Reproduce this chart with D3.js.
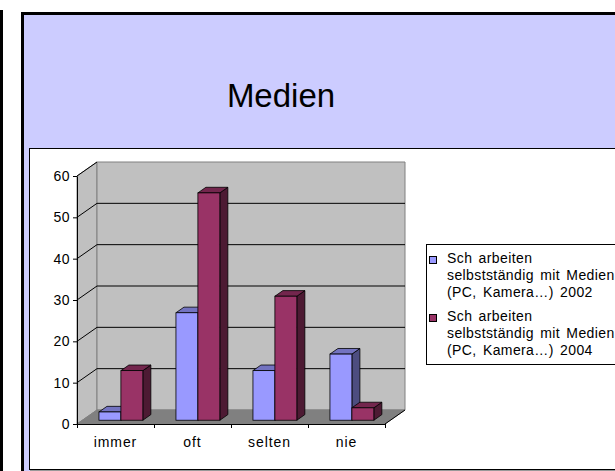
<!DOCTYPE html>
<html>
<head>
<meta charset="utf-8">
<script src="https://cdn.jsdelivr.net/npm/d3@7"></script>
<style>
  body { margin: 0; background: #fff; }
  svg { display: block; font-family: "Liberation Sans", Arial, sans-serif; }
</style>
</head>
<body>
<svg id="chart" width="615" height="471"></svg>
<script>
var categories = ["immer", "oft", "selten", "nie"];
var seriesNames = [
    ["Sch arbeiten", "selbstständig mit Medien", "(PC, Kamera…) 2002"],
    ["Sch arbeiten", "selbstständig mit Medien", "(PC, Kamera…) 2004"]
];
var values2002 = [2, 26, 12, 16];
var values2004 = [12, 55, 30, 3];
var yTicks = [0, 10, 20, 30, 40, 50, 60];

var colors = [
    {front: "#9999ff", top: "#7373c0", side: "#4d4d80"},
    {front: "#993366", top: "#73264d", side: "#4d1a33"}
];

// 3d depth of the plot box
var DX = 20, DY = -14;
var f0 = 0.27, f1 = 0.67;

var svg = d3.select("#chart");

// slide frame
svg.append("rect").attr("x", 0).attr("y", 10).attr("width", 3).attr("height", 470).attr("fill", "#000");
svg.append("rect")
    .attr("x", 22.5).attr("y", 13.5)
    .attr("width", 700).attr("height", 600)
    .attr("fill", "#ccccff").attr("stroke", "#000").attr("stroke-width", 3);

svg.append("text")
    .attr("x", 281).attr("y", 107)
    .attr("text-anchor", "middle")
    .attr("font-size", 33)
    .text("Medien");

// chart area
svg.append("line").attr("x1", 30).attr("x2", 615).attr("y1", 470.5).attr("y2", 470.5).attr("stroke", "#999");
svg.append("rect")
    .attr("x", 29.5).attr("y", 148.5)
    .attr("width", 700).attr("height", 321)
    .attr("fill", "#fff").attr("stroke", "#000");

var x = d3.scaleBand().domain(categories).range([77, 385]);
var bw = x.bandwidth();
var xs = d3.scaleBand().domain([0, 1]).range([bw * 0.215, bw * 0.785]);
var y = d3.scaleLinear().domain([0, 60]).range([424, 176]);

var x0 = x.range()[0], x1 = x.range()[1];
var yTop = y(60), yBot = y(0);

function pts(a) { return a.map(function(p) { return p.join(","); }).join(" "); }

var plot = svg.append("g");

// left wall
plot.append("polygon")
    .attr("points", pts([[x0, yBot], [x0, yTop], [x0 + DX, yTop + DY], [x0 + DX, yBot + DY]]))
    .attr("fill", "#c0c0c0").attr("stroke", "#808080");
// back wall
plot.append("polygon")
    .attr("points", pts([[x0 + DX, yTop + DY], [x1 + DX, yTop + DY], [x1 + DX, yBot + DY], [x0 + DX, yBot + DY]]))
    .attr("fill", "#c0c0c0").attr("stroke", "#808080");
// floor
plot.append("polygon")
    .attr("points", pts([[x0, yBot], [x1, yBot], [x1 + DX, yBot + DY], [x0 + DX, yBot + DY]]))
    .attr("fill", "#808080").attr("stroke", "#808080");

// gridlines
yTicks.filter(function(v) { return v > 0 && v < 60; }).forEach(function(v) {
    plot.append("line")
        .attr("x1", x0).attr("y1", y(v)).attr("x2", x0 + DX).attr("y2", y(v) + DY)
        .attr("stroke", "#000");
    plot.append("line")
        .attr("x1", x0 + DX).attr("y1", y(v) + DY).attr("x2", x1 + DX).attr("y2", y(v) + DY)
        .attr("stroke", "#000");
});
plot.append("line")
    .attr("x1", x0).attr("y1", yTop).attr("x2", x0 + DX).attr("y2", yTop + DY)
    .attr("stroke", "#000");
plot.append("line")
    .attr("x1", x1).attr("y1", yBot).attr("x2", x1 + DX).attr("y2", yBot + DY)
    .attr("stroke", "#000");

// bars
var bars = [];
categories.forEach(function(c, i) {
    [values2002[i], values2004[i]].forEach(function(v, s) {
        bars.push({cat: c, s: s, v: v});
    });
});

var bg = plot.selectAll(".bar").data(bars).enter().append("g").attr("class", "bar");
bg.each(function(d) {
    var g = d3.select(this);
    var bx = x(d.cat) + xs(d.s) + DX * f0;
    var bw2 = xs.bandwidth();
    var by0 = y(0) + DY * f0;
    var by1 = y(d.v) + DY * f0;
    var ddx = DX * (f1 - f0), ddy = DY * (f1 - f0);
    var col = colors[d.s];
    g.append("polygon")
        .attr("points", pts([[bx + bw2, by0], [bx + bw2, by1], [bx + bw2 + ddx, by1 + ddy], [bx + bw2 + ddx, by0 + ddy]]))
        .attr("fill", col.side).attr("stroke", "#000").attr("stroke-width", 0.8);
    g.append("polygon")
        .attr("points", pts([[bx, by1], [bx + bw2, by1], [bx + bw2 + ddx, by1 + ddy], [bx + ddx, by1 + ddy]]))
        .attr("fill", col.top).attr("stroke", "#000").attr("stroke-width", 0.8);
    g.append("rect")
        .attr("x", bx).attr("y", by1)
        .attr("width", bw2).attr("height", by0 - by1)
        .attr("fill", col.front).attr("stroke", "#000").attr("stroke-width", 0.8);
});

// y axis
svg.append("g")
    .attr("transform", "translate(" + x0 + ",0)")
    .call(d3.axisLeft(y).tickValues(yTicks).tickSize(4).tickPadding(3).tickSizeOuter(0))
    .call(function(g) {
        g.selectAll("text").attr("font-size", 14).attr("letter-spacing", 0.5)
            .attr("fill", "#000").attr("font-family", "Liberation Sans, Arial, sans-serif");
        g.selectAll("line, path").attr("stroke", "#000");
    });

// x axis
var xa = svg.append("g");
xa.append("line").attr("x1", x0).attr("x2", x1).attr("y1", yBot + 0.5).attr("y2", yBot + 0.5).attr("stroke", "#000");
xa.selectAll(".tk").data(categories.concat(["end"])).enter().append("line")
    .attr("x1", function(d) { return (d === "end" ? x1 : x(d)) + 0.5; })
    .attr("x2", function(d) { return (d === "end" ? x1 : x(d)) + 0.5; })
    .attr("y1", yBot).attr("y2", yBot + 4)
    .attr("stroke", "#000");
xa.selectAll(".lbl").data(categories).enter().append("text")
    .attr("x", function(d) { return x(d) + bw / 2; })
    .attr("y", 447)
    .attr("text-anchor", "middle")
    .attr("font-size", 14)
    .attr("letter-spacing", 0.9)
    .text(function(d) { return d; });

// legend
var lg = svg.append("g").attr("transform", "translate(426,244)");
lg.append("rect").attr("x", 0.5).attr("y", 0.5).attr("width", 300).attr("height", 120)
    .attr("fill", "#fff").attr("stroke", "#000");
var items = lg.selectAll(".item").data(seriesNames).enter().append("g")
    .attr("transform", function(d, i) { return "translate(0," + (i * 58) + ")"; });
items.append("rect")
    .attr("x", 3.5).attr("y", 12.5).attr("width", 7).attr("height", 7)
    .attr("fill", function(d, i) { return colors[i].front; })
    .attr("stroke", "#000");
items.each(function(d) {
    d3.select(this).selectAll("text").data(d).enter().append("text")
        .attr("x", 21).attr("y", function(t, j) { return 19 + j * 17; })
        .attr("font-size", 14)
        .attr("letter-spacing", 0.4)
        .attr("word-spacing", 2)
        .text(function(t) { return t; });
});
</script>
</body>
</html>
